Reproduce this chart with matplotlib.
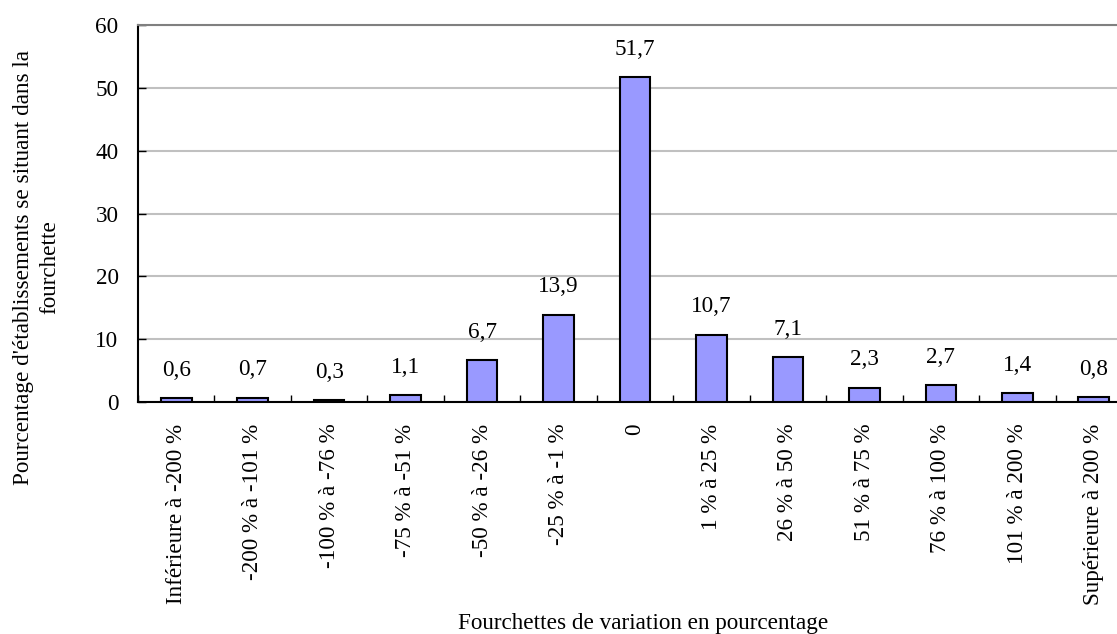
import matplotlib.pyplot as plt
import numpy as np

plt.rcParams['font.family'] = ['Liberation Serif', 'DejaVu Serif']

categories = ["Inférieure à -200 %", "-200 % à -101 %", "-100 % à -76 %", "-75 % à -51 %",
              "-50 % à -26 %", "-25 % à -1 %", "0", "1 % à 25 %", "26 % à 50 %",
              "51 % à 75 %", "76 % à 100 %", "101 % à 200 %", "Supérieure à 200 %"]
values = [0.6, 0.7, 0.3, 1.1, 6.7, 13.9, 51.7, 10.7, 7.1, 2.3, 2.7, 1.4, 0.8]
yticks = [0, 10, 20, 30, 40, 50, 60]

FS = 16.7
W, H = 1117, 634
fig = plt.figure(figsize=(W / 100, H / 100), dpi=100)
# plot area runs past the right edge of the canvas
ax = fig.add_axes([138 / W, 1 - 402 / H, (1132 - 138) / W, (402 - 25) / H])

x = np.arange(len(categories))
ax.bar(x, values, width=0.4, color='#9999FF', edgecolor='black', linewidth=1.5, zorder=3)

for xi, v in zip(x, values):
    ax.annotate(f"{v:.1f}".replace('.', ','), (xi, v), xytext=(0, 20), textcoords='offset points',
                ha='center', va='center', fontsize=FS)

ax.set_xlim(-0.5, len(categories) - 0.5)
ax.set_ylim(0, 60)
ax.set_yticks(yticks)
ax.set_yticklabels([str(t) for t in yticks], fontsize=FS)
ax.yaxis.grid(True, color='#C0C0C0', linewidth=1.5, zorder=0)

ax.set_xticks(np.arange(len(categories) + 1) - 0.5, minor=False)
ax.set_xticklabels([])
ax.set_xticks(x, minor=True)
ax.set_xticklabels(categories, minor=True, rotation=90, fontsize=FS, ha='center', va='top')
ax.tick_params(axis='x', which='minor', length=0, pad=15.5)
ax.tick_params(axis='x', which='major', direction='in', length=5, width=1)
ax.tick_params(axis='y', direction='in', length=6, width=1, pad=14)

for s in ['left', 'bottom']:
    ax.spines[s].set_linewidth(1.5)
ax.spines['top'].set_color('#808080')
ax.spines['top'].set_linewidth(1.5)
ax.spines['right'].set_visible(False)

fig.text(37 / W, 1 - 267 / H, "Pourcentage d'établissements se situant dans la\nfourchette",
         rotation=90, ha='center', va='center', multialignment='center', fontsize=FS, linespacing=1.35)
fig.text(643 / W, 1 - 623 / H, "Fourchettes de variation en pourcentage",
         ha='center', va='center', fontsize=FS)

fig.savefig('out.png', dpi=100)
